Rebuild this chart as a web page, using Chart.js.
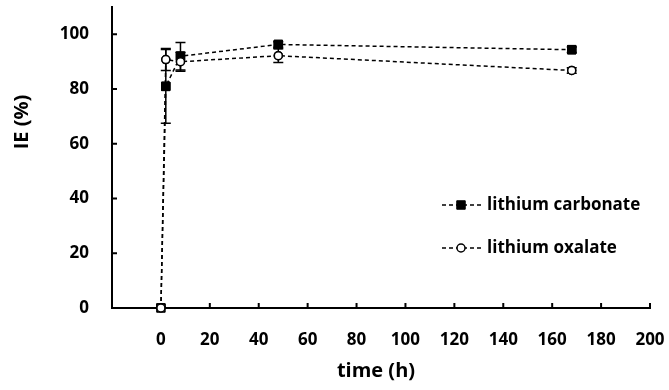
<!DOCTYPE html>
<html><head><meta charset="utf-8">
<script src="https://cdn.jsdelivr.net/npm/chart.js@4/dist/chart.umd.min.js"></script>
<style>html,body{margin:0;padding:0;background:#fff}#wrap{width:669px;height:390px}</style>
</head><body><div id="wrap"><canvas id="c" width="669" height="390"></canvas></div>
<script>
const times = [0, 2, 8, 48, 168];
const carbonate = [0, 81, 92, 96.3, 94.4];
const carbonateErr = [0, 13.5, 5, 1, 1];
const oxalate = [0, 90.8, 90, 92.2, 86.8];
const oxalateErr = [0, 4, 3.5, 2.5, 1];
const xTicks = [0, 20, 40, 60, 80, 100, 120, 140, 160, 180, 200];
const yTicks = [0, 20, 40, 60, 80, 100];
const seriesNames = ['lithium carbonate', 'lithium oxalate'];
const xTitle = 'time (h)';
const yTitle = 'IE (%)';

const FONT = '"Open Sans", "DejaVu Sans", sans-serif';
const toPts = (xs, ys) => xs.map((x, i) => ({x: x, y: ys[i]}));

const errorBars = {
  id: 'errorBars',
  afterDatasetsDraw(chart) {
    const ctx = chart.ctx, ys = chart.scales.y, xs = chart.scales.x;
    chart.data.datasets.forEach((ds, di) => {
      const errs = ds.errors || [];
      ds.data.forEach((p, i) => {
        const e = errs[i];
        if (!e) return;
        const px = xs.getPixelForValue(p.x);
        const top = ys.getPixelForValue(p.y + e), bot = ys.getPixelForValue(p.y - e);
        ctx.save();
        ctx.strokeStyle = '#000'; ctx.lineWidth = 1.5;
        ctx.beginPath();
        ctx.moveTo(px, top); ctx.lineTo(px, bot);
        ctx.moveTo(px - 5, top); ctx.lineTo(px + 5, top);
        ctx.moveTo(px - 5, bot); ctx.lineTo(px + 5, bot);
        ctx.stroke();
        ctx.restore();
      });
    });
    chart.data.datasets.forEach((ds, di) => {
      chart.getDatasetMeta(di).data.forEach(el => el.draw(ctx));
    });
  }
};

const decor = {
  id: 'decor',
  afterDraw(chart) {
    const ctx = chart.ctx, ca = chart.chartArea, xs = chart.scales.x, ys = chart.scales.y;
    ctx.save();
    ctx.strokeStyle = '#000'; ctx.lineWidth = 2;
    ctx.beginPath();
    yTicks.forEach(v => { const py = ys.getPixelForValue(v); if (v > 0) { ctx.moveTo(ca.left, py); ctx.lineTo(ca.left + 5, py); } });
    xTicks.forEach(v => { const px = xs.getPixelForValue(v); if (v > 0) { ctx.moveTo(px, ca.bottom); ctx.lineTo(px, ca.bottom - 5); } });
    ctx.stroke();
    ctx.fillStyle = '#000';
    ctx.font = 'bold 20px ' + FONT;
    ctx.textAlign = 'center'; ctx.textBaseline = 'middle';
    ctx.fillText(xTitle, (ca.left + ca.right) / 2 - 5, 371);
    ctx.save();
    ctx.translate(22, 122); ctx.rotate(-Math.PI / 2);
    ctx.fillText(yTitle, 0, 0);
    ctx.restore();
    ctx.font = 'bold 17px ' + FONT;
    const rows = [205, 248];
    chart.data.datasets.forEach((ds, di) => {
      const y = rows[di];
      ctx.save();
      ctx.strokeStyle = '#000'; ctx.lineWidth = 1.5; ctx.setLineDash(ds.borderDash);
      ctx.beginPath(); ctx.moveTo(442, y); ctx.lineTo(481, y); ctx.stroke();
      ctx.restore();
      ctx.save();
      ctx.fillStyle = ds.pointBackgroundColor; ctx.strokeStyle = '#000'; ctx.lineWidth = ds.pointBorderWidth;
      ctx.beginPath();
      if (ds.pointStyle === 'rect') { const s = Math.SQRT1_2 * ds.pointRadius; ctx.rect(461 - s, y - s, 2 * s, 2 * s); }
      else ctx.arc(461, y, ds.pointRadius, 0, Math.PI * 2);
      ctx.fill(); ctx.stroke();
      ctx.restore();
      ctx.fillStyle = '#000'; ctx.textAlign = 'left'; ctx.textBaseline = 'middle';
      ctx.fillText(seriesNames[di], 487, y);
    });
    ctx.restore();
  }
};

new Chart(document.getElementById('c'), {
  type: 'scatter',
  data: {
    datasets: [
      { label: seriesNames[0], data: toPts(times, carbonate), errors: carbonateErr, showLine: true,
        borderColor: '#000', borderWidth: 1.5, borderDash: [4, 3], pointStyle: 'rect', pointRadius: 6,
        pointBackgroundColor: '#000', pointBorderColor: '#000', pointBorderWidth: 1, order: 2 },
      { label: seriesNames[1], data: toPts(times, oxalate), errors: oxalateErr, showLine: true,
        borderColor: '#000', borderWidth: 1.5, borderDash: [4, 3], pointStyle: 'circle', pointRadius: 4,
        pointBackgroundColor: '#fff', pointBorderColor: '#000', pointBorderWidth: 1.5, order: 1 }
    ]
  },
  options: {
    responsive: false, animation: false, devicePixelRatio: 1,
    layout: { padding: { top: 7, right: 19, left: 0, bottom: 0 } },
    plugins: { legend: { display: false }, tooltip: { enabled: false } },
    scales: {
      x: { type: 'linear', min: -20, max: 200,
        afterBuildTicks: s => { s.ticks = xTicks.map(v => ({value: v})); },
        afterFit: s => { s.height = 82; s.paddingLeft = 0; s.paddingRight = 0; },
        grid: { display: false },
        border: { display: true, color: '#000', width: 2 },
        ticks: { color: '#000', padding: 14, maxRotation: 0, autoSkip: false, font: { family: FONT, size: 17, weight: 'bold' } } },
      y: { type: 'linear', min: 0, max: 110,
        afterBuildTicks: s => { s.ticks = yTicks.map(v => ({value: v})); },
        afterFit: s => { s.width = 112; s.paddingTop = 0; s.paddingBottom = 0; },
        grid: { display: false },
        border: { display: true, color: '#000', width: 2 },
        ticks: { color: '#000', padding: 15, font: { family: FONT, size: 17, weight: 'bold' } } }
    }
  },
  plugins: [errorBars, decor]
});
</script></body></html>
